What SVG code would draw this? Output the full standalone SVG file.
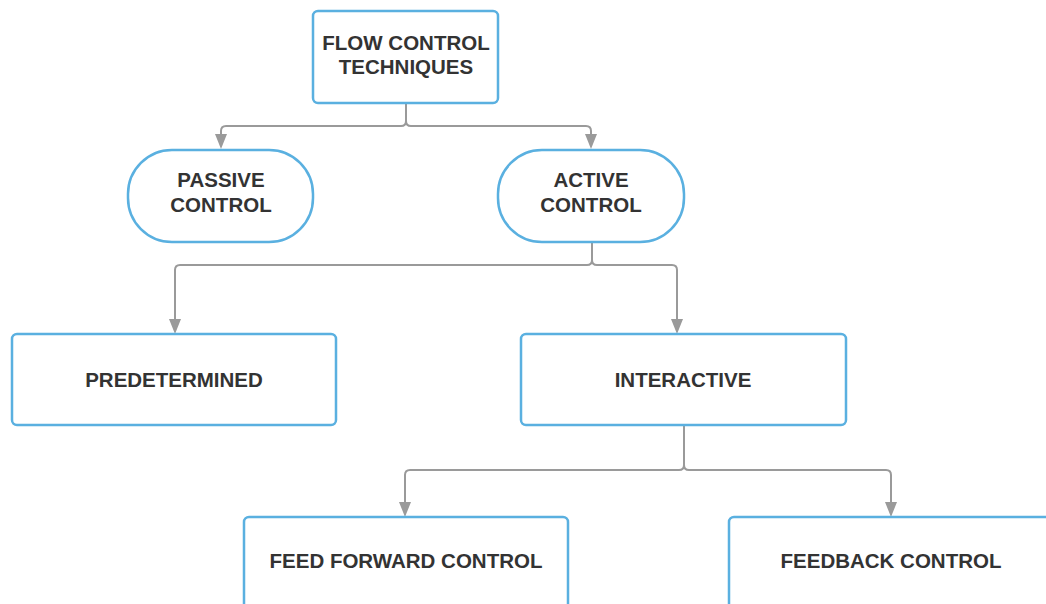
<svg xmlns="http://www.w3.org/2000/svg" width="1046" height="604" viewBox="0 0 1046 604">
<style>
.box{fill:#fff;stroke:#5ab0e0;stroke-width:2.5}
.t{font-family:"Liberation Sans",Arial,sans-serif;font-weight:bold;font-size:20.5px;fill:#333;text-anchor:middle}
.c{fill:none;stroke:#9a9a9a;stroke-width:2}
</style>
<defs>
<marker id="ah" viewBox="0 0 12 14" refX="6" refY="14" markerWidth="12" markerHeight="14" markerUnits="userSpaceOnUse" orient="auto-start-reverse">
<path d="M0,0 L12,0 L6,14 Z" fill="#9a9a9a"/>
</marker>
</defs>
<rect width="1046" height="604" fill="#fff"/>
<g id="connectors">
<path class="c" d="M406,103 V121 Q406,126 401,126 H226 Q221,126 221,131 V135"/>
<path class="c" d="M406,121 Q406,126 411,126 H586 Q591,126 591,131 V135"/>
<path d="M215,134 H227 L221,149 Z" fill="#9a9a9a"/>
<path d="M585,134 H597 L591,149 Z" fill="#9a9a9a"/>
<path class="c" d="M592,242 V260 Q592,265 587,265 H180 Q175,265 175,270 V320"/>
<path class="c" d="M592,260 Q592,265 597,265 H672 Q677,265 677,270 V320"/>
<path d="M169,319 H181 L175,334 Z" fill="#9a9a9a"/>
<path d="M671,319 H683 L677,334 Z" fill="#9a9a9a"/>
<path class="c" d="M684,425 V465 Q684,470 679,470 H410 Q405,470 405,475 V503"/>
<path class="c" d="M684,465 Q684,470 689,470 H886 Q891,470 891,475 V503"/>
<path d="M399,502 H411 L405,517 Z" fill="#9a9a9a"/>
<path d="M885,502 H897 L891,517 Z" fill="#9a9a9a"/>
</g>
<g id="n-flow">
<rect class="box" x="313" y="11" width="185" height="92" rx="5"/>
<text class="t" x="406" y="50">FLOW CONTROL</text>
<text class="t" x="406" y="74">TECHNIQUES</text>
</g>
<g id="n-passive">
<rect class="box" x="128" y="150" width="185" height="92" rx="44"/>
<text class="t" x="221" y="187">PASSIVE</text>
<text class="t" x="221" y="212">CONTROL</text>
</g>
<g id="n-active">
<rect class="box" x="498" y="150" width="186" height="92" rx="44"/>
<text class="t" x="591" y="187">ACTIVE</text>
<text class="t" x="591" y="212">CONTROL</text>
</g>
<g id="n-predetermined">
<rect class="box" x="12" y="334" width="324" height="91" rx="5"/>
<text class="t" x="174" y="387">PREDETERMINED</text>
</g>
<g id="n-interactive">
<rect class="box" x="521" y="334" width="325" height="91" rx="5"/>
<text class="t" x="683" y="387">INTERACTIVE</text>
</g>
<g id="n-feedforward">
<rect class="box" x="244" y="517" width="324" height="100" rx="5"/>
<text class="t" x="406" y="568">FEED FORWARD CONTROL</text>
</g>
<g id="n-feedback">
<rect class="box" x="729" y="517" width="340" height="100" rx="5"/>
<text class="t" x="891" y="568">FEEDBACK CONTROL</text>
</g>
</svg>
